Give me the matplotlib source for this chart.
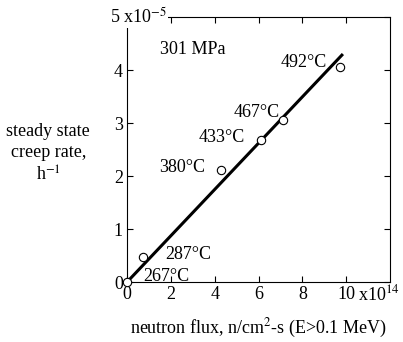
import numpy as np
import matplotlib.pyplot as plt

plt.rcParams['font.family'] = ['Liberation Serif', 'DejaVu Serif']
plt.rcParams['mathtext.fontset'] = 'stix'

# datos (flujo en 1e14 n/cm2-s, velocidad en 1e-5 1/h)
flux = [0.0, 0.75, 4.3, 6.1, 7.1, 9.7]
rate = [0.0, 0.48, 2.12, 2.68, 3.05, 4.05]
temps = ['267°C', '287°C', '380°C', '433°C', '467°C', '492°C']
label_x = [0.75, 1.75, 1.45, 3.25, 4.85, 7.0]
label_y = [0.1, 0.53, 2.17, 2.72, 3.2, 4.15]
fit_x = [0.0, 9.8]
slope = 0.437

fig = plt.figure(figsize=(4.03, 3.42), dpi=100)
ax = fig.add_axes([0.315, 0.175, 0.653, 0.775])

ax.plot(fit_x, [slope * v for v in fit_x], color='black', lw=2.2)
ax.plot(flux, rate, 'o', mfc='white', mec='black', ms=6, mew=0.8, clip_on=False, zorder=5)

for t, lx, ly in zip(temps, label_x, label_y):
    ax.text(lx, ly, t, fontsize=13, va='center', ha='left')
ax.text(1.5, 4.38, '301 MPa', fontsize=13, va='center')

ax.set_xlim(0, 12)
ax.set_ylim(0, 5)
ax.set_xticks(range(0, 11, 2))
ax.set_xticklabels(['0', '2', '4', '6', '8', '10'])
ax.set_yticks(range(0, 6))
ax.set_yticklabels(['0', '1', '2', '3', '4', ''])
ax.tick_params(direction='in', top=True, right=True, labelsize=13, length=4, width=0.8, pad=3)
for s in ax.spines.values():
    s.set_linewidth(0.8)

# factores de escala
ax.text(10.55, -0.34, 'x10$^{14}$', fontsize=13, va='baseline', ha='left', clip_on=False)
fig.text(110 / 403, 1 - 17 / 342, '5 x10$^{-5}$', fontsize=13, va='center', ha='left',
         zorder=10, bbox=dict(facecolor='white', edgecolor='none', pad=1))

fig.text(0.12, 0.55, 'steady state\ncreep rate,\nh$^{-1}$', fontsize=13, ha='center', va='center',
         linespacing=1.3)
fig.text(0.64, 0.04, 'neutron flux, n/cm$^2$-s (E>0.1 MeV)', fontsize=13, ha='center', va='center')

fig.savefig('out.png', dpi=100)
